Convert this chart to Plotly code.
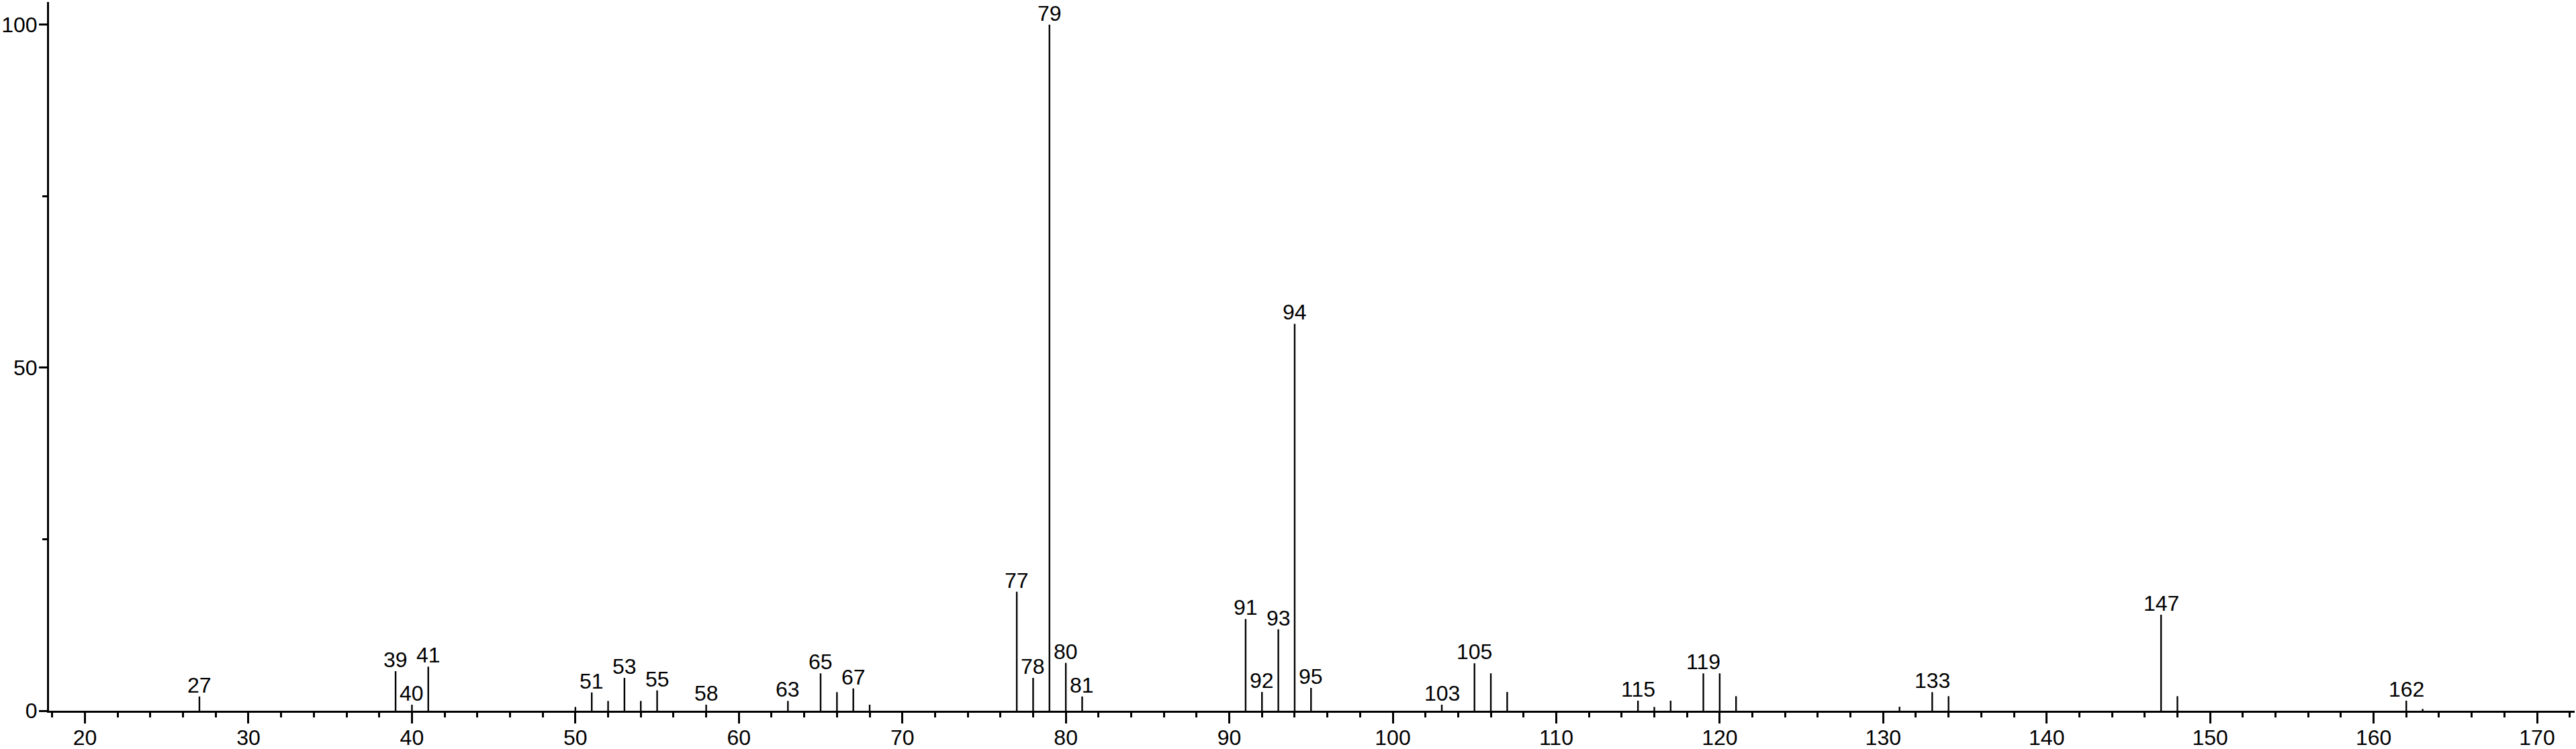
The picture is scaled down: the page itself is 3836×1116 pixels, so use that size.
import plotly.graph_objects as go

# m/z values and relative intensities
mz = [27, 39, 40, 41, 50, 51, 52, 53, 54, 55, 58, 63, 65, 66, 67, 68,
      77, 78, 79, 80, 81, 91, 92, 93, 94, 95, 103, 105, 106, 107,
      115, 116, 117, 119, 120, 121, 131, 133, 134, 147, 148, 162, 163]
intensity = [2.08, 5.77, 0.88, 6.42, 0.55, 2.67, 1.43, 4.79, 1.43, 2.97, 0.88, 1.43, 5.45, 2.71, 3.26, 0.88,
             17.35, 4.79, 100.0, 6.98, 2.08, 13.37, 2.74, 11.87, 56.4, 3.33, 0.88, 6.92, 5.45, 2.74,
             1.47, 0.55, 1.47, 5.45, 5.45, 2.12, 0.59, 2.71, 2.12, 14.0, 2.12, 1.47, 0.26]
labeled = [27, 39, 40, 41, 51, 53, 55, 58, 63, 65, 67, 77, 78, 79, 80, 81,
           91, 92, 93, 94, 95, 103, 105, 115, 119, 133, 147, 162]

x_ticks = [20, 30, 40, 50, 60, 70, 80, 90, 100, 110, 120, 130, 140, 150, 160, 170]
y_ticks = [0, 50, 100]

FONT = "Liberation Sans, Arial, Helvetica, sans-serif"

xs, ys = [], []
for m, h in zip(mz, intensity):
    xs += [m, m, None]
    ys += [0, h, None]

fig = go.Figure()
fig.add_trace(go.Scatter(x=xs, y=ys, mode="lines",
                         line=dict(color="black", width=2.4),
                         hoverinfo="skip", showlegend=False))

lookup = dict(zip(mz, intensity))
for m in labeled:
    fig.add_annotation(x=m, y=lookup[m], text=str(m), showarrow=False,
                       xanchor="center", yanchor="bottom", yshift=-3,
                       font=dict(family=FONT, size=32, color="black"))

fig.update_layout(
    width=3836, height=1116,
    margin=dict(l=73, r=2, t=3, b=57, autoexpand=False),
    paper_bgcolor="white", plot_bgcolor="white",
    font=dict(family=FONT, size=32, color="black"),
    showlegend=False,
)
fig.update_xaxes(
    range=[17.8, 172.3], showgrid=False, zeroline=False,
    showline=True, linecolor="black", linewidth=3,
    tickmode="array", tickvals=x_ticks, ticktext=[str(v) for v in x_ticks],
    ticks="outside", ticklen=16, tickwidth=3, tickcolor="black",
    ticklabelstandoff=-6,
    minor=dict(dtick=2, tick0=0, ticks="outside", ticklen=7, tickwidth=3, tickcolor="black"),
    tickfont=dict(family=FONT, size=32, color="black"),
    automargin=False,
)
fig.update_yaxes(
    range=[0, 103.3], showgrid=False, zeroline=False,
    showline=True, linecolor="black", linewidth=3,
    tickmode="array", tickvals=y_ticks, ticktext=[str(v) for v in y_ticks],
    ticks="outside", ticklen=12, tickwidth=3, tickcolor="black",
    ticklabelstandoff=-4,
    minor=dict(dtick=25, tick0=0, ticks="outside", ticklen=7, tickwidth=3, tickcolor="black"),
    tickfont=dict(family=FONT, size=32, color="black"),
    automargin=False,
)

fig.write_html("out.html", config={"displayModeBar": False},
               post_script="document.body.style.margin='0';document.body.style.overflow='hidden';")
